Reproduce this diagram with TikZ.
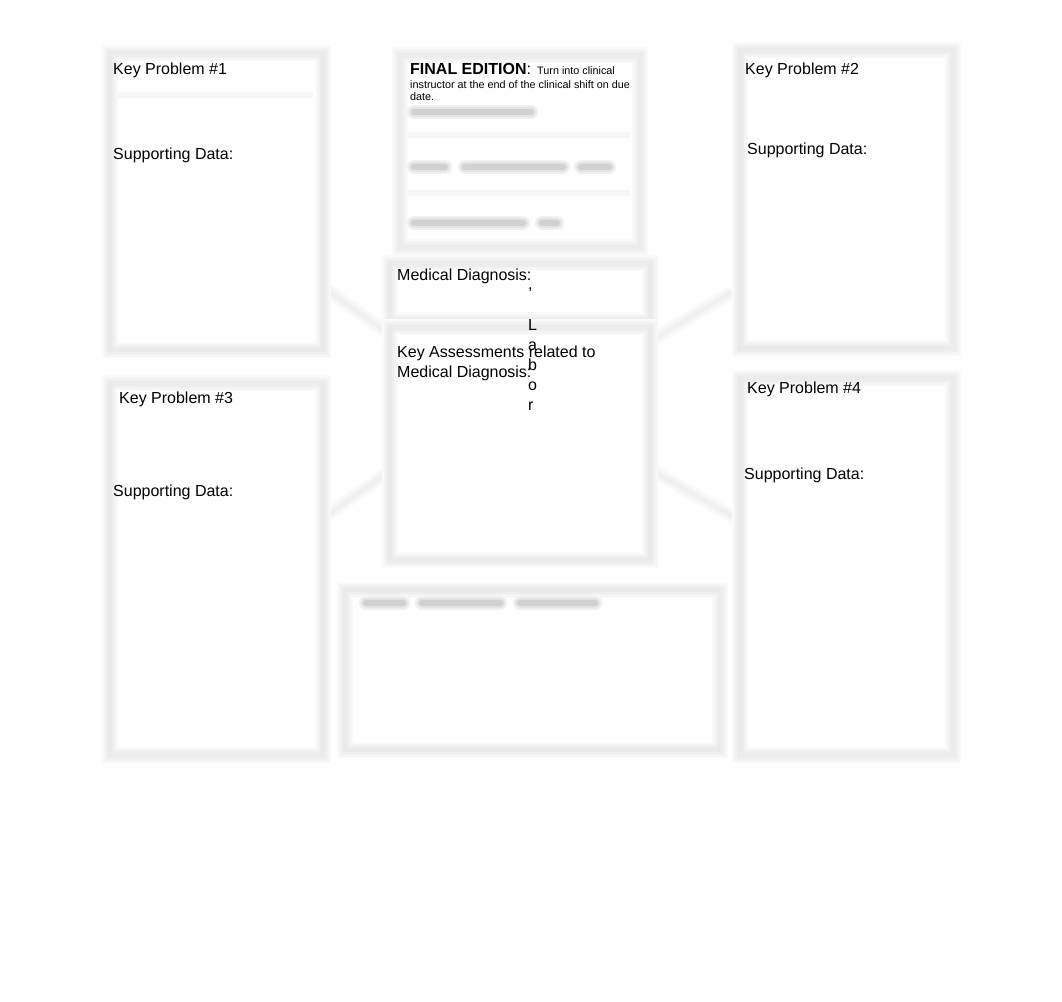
\documentclass[tikz,border=0pt]{standalone}
\usepackage{fontspec}
\setmainfont{Liberation Sans}
\pgfdeclarelayer{background}
\pgfsetlayers{background,main}
\begin{document}
\begin{tikzpicture}[x=1pt,y=-1pt,
  softbox/.style={rectangle, inner sep=0pt,
    preaction={fill=white},
    preaction={draw=black!2, line width=16pt},
    preaction={draw=black!3.5, line width=13pt},
    preaction={draw=black!5, line width=10pt},
    preaction={draw=black!6.5, line width=7pt},
    draw=black!8, line width=4pt},
  link/.style={draw=black!4, line width=9pt,
    preaction={draw=black!2, line width=14pt},
    postaction={draw=black!6, line width=4pt}},
  txt/.style={anchor=base west, inner sep=0pt, font=\fontsize{16}{19}\selectfont},
  small/.style={anchor=base west, inner sep=0pt, font=\fontsize{10.8}{12}\selectfont},
  blob/.style={draw=black!18, line width=6pt, line cap=round,
    preaction={draw=black!6, line width=14pt, line cap=round},
    preaction={draw=black!11, line width=10pt, line cap=round}},
  sep/.style={draw=black!3, line width=6pt}]
\useasboundingbox (0,0) rectangle (1062,1001);

% boxes
\node[softbox, minimum width=213pt, minimum height=297pt] (kp1) at (216.5,201.5) {};
\node[softbox, minimum width=240pt, minimum height=192pt] (fe)  at (520,151) {};
\node[softbox, minimum width=213pt, minimum height=298pt] (kp2) at (846.5,199) {};
\node[softbox, minimum width=213pt, minimum height=372pt] (kp3) at (216.5,569) {};
\node[softbox, minimum width=213pt, minimum height=377pt] (kp4) at (846.5,566.5) {};
\node[softbox, minimum width=375pt, minimum height=160pt] (bt)  at (532.5,670) {};
\node[softbox, minimum width=260pt, minimum height=57pt]  (md)  at (520,291.5) {};
\node[softbox, minimum width=260pt, minimum height=233pt] (ka)  at (520,443.5) {};

% connectors
\coordinate (c1) at (327,290);
\coordinate (c2) at (389,334);
\coordinate (c3) at (329,514);
\coordinate (c4) at (387,473);
\coordinate (c5) at (732,292);
\coordinate (c6) at (651,341);
\coordinate (c7) at (739,520);
\coordinate (c8) at (651,470);
\begin{pgfonlayer}{background}
\draw[link] (c1) -- (c2);
\draw[link] (c3) -- (c4);
\draw[link] (c5) -- (c6);
\draw[link] (c7) -- (c8);
\end{pgfonlayer}

% faint separators
\draw[sep] ([yshift=-44pt]kp1.north west) ++(8,0) -- ++(197,0);
\draw[sep] ([yshift=-82pt]fe.north west) ++(8,0) -- ++(224,0);
\draw[sep] ([yshift=-140pt]fe.north west) ++(8,0) -- ++(224,0);

% blurred (illegible) text in the final edition box and bottom box
\draw[blob] (414,112) -- (531,112);
\draw[blob] (414,167) -- (445,167);
\draw[blob] (465,167) -- (563,167);
\draw[blob] (581,167) -- (609,167);
\draw[blob] (414,223) -- (523,223);
\draw[blob] (542,223) -- (557,223);
\draw[blob] (366,603) -- (403,603);
\draw[blob] (422,603) -- (500,603);
\draw[blob] (520,603) -- (595,603);

% texts
\node[txt] (t1) at (113,74) {Key Problem \#1};
\node[txt] (t2) at (113,159) {Supporting Data:};
\node[txt] (t3) at (745,74) {Key Problem \#2};
\node[txt] (t4) at (747,154) {Supporting Data:};
\node[txt] (t5) at (119,403) {Key Problem \#3};
\node[txt] (t6) at (113,496) {Supporting Data:};
\node[txt] (t7) at (747,393) {Key Problem \#4};
\node[txt] (t8) at (744,479) {Supporting Data:};
\node[txt] (t9) at (397,280) {Medical Diagnosis:};
\node[txt] (t10) at (397,357) {Key Assessments related to};
\node[txt] (t11) at (397,377) {Medical Diagnosis:};
\node[txt] (f1) at (410,74) {\textbf{FINAL EDITION}:};
\node[small] (f2) at (537,74) {Turn into clinical};
\node[small] (f3) at (410,88) {instructor at the end of the clinical shift on due};
\node[small] (f4) at (410,100) {date.};
\node[txt] (l0) at (528,289) {,};
\node[txt] (l1) at (528,330) {L};
\node[txt] (l2) at (528,350) {a};
\node[txt] (l3) at (528,370) {b};
\node[txt] (l4) at (528,390) {o};
\node[txt] (l5) at (528,410) {r};
\end{tikzpicture}
\end{document}
